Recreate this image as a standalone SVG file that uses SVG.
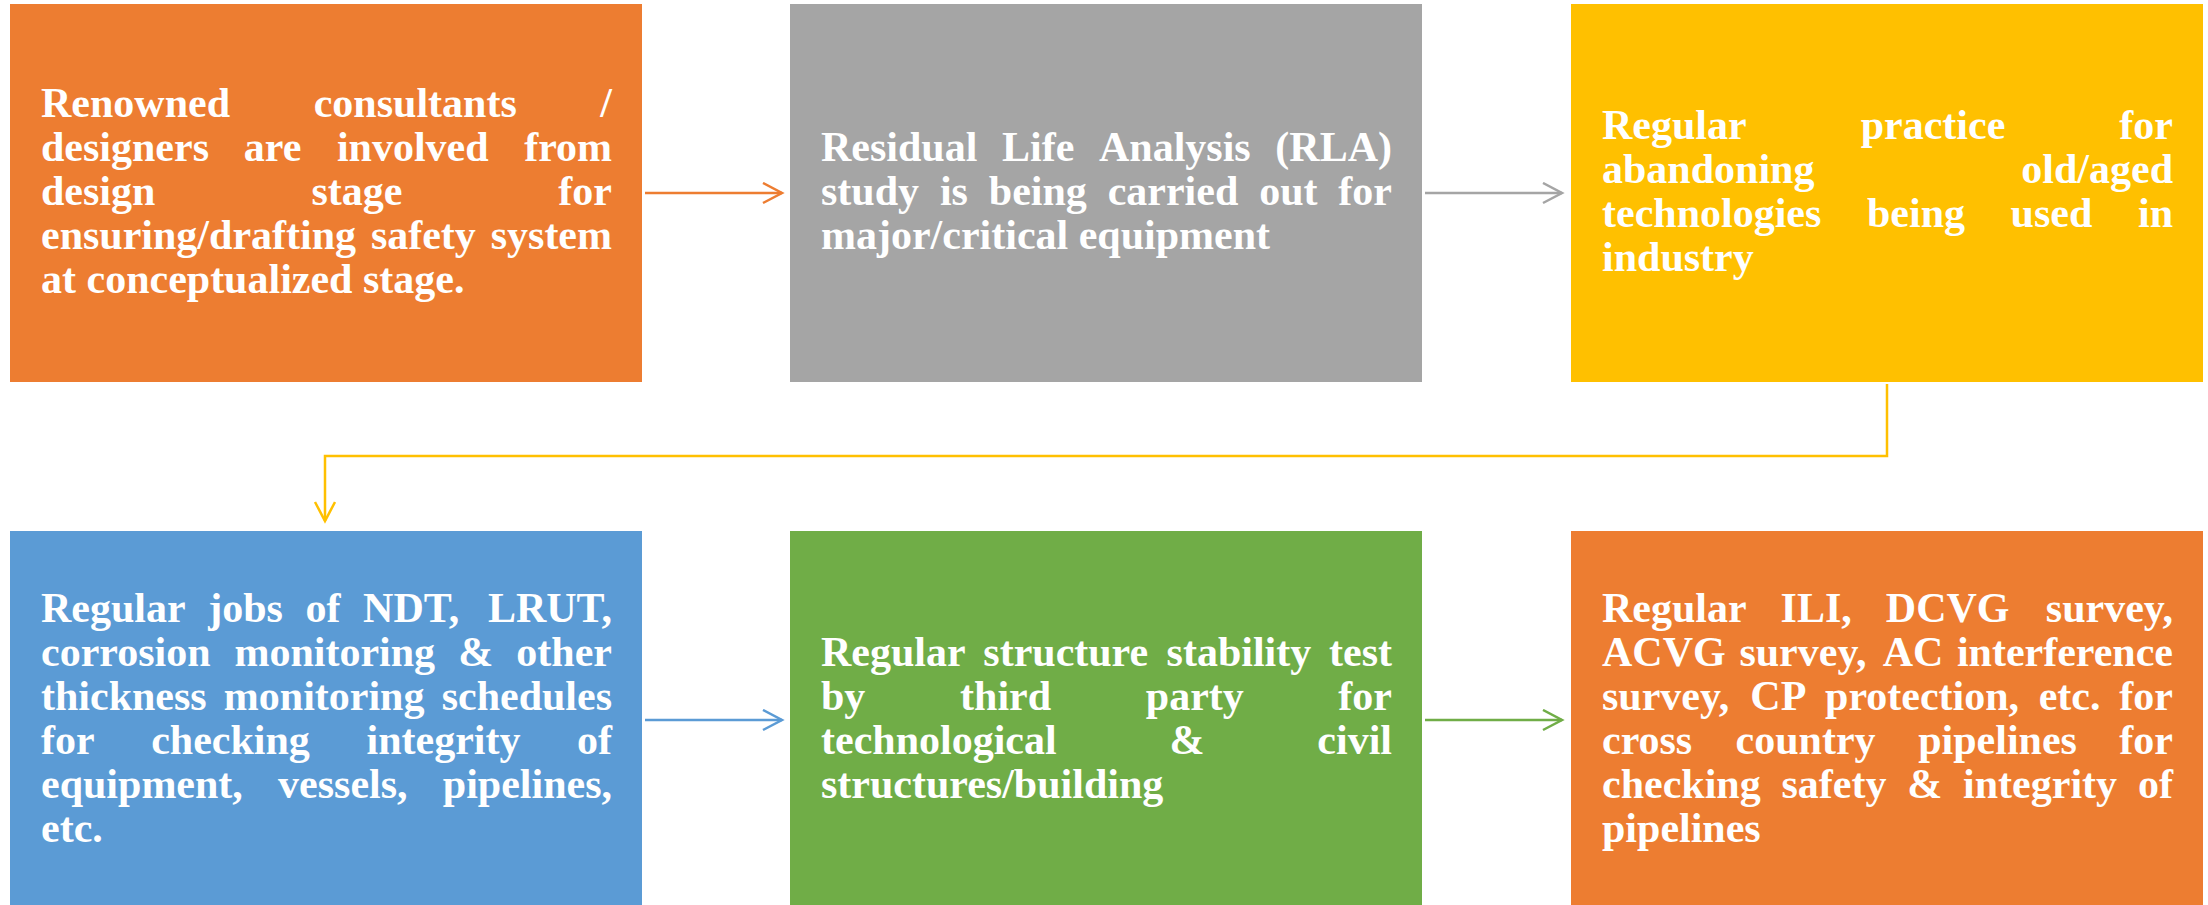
<svg xmlns="http://www.w3.org/2000/svg" width="2208" height="905" viewBox="0 0 2208 905">
<style>
.t{font-family:"Liberation Serif","Times New Roman",serif;font-weight:bold;font-size:42px;fill:#FFFFFF}
.e{text-anchor:end}
.c{fill:none;stroke-width:2.5}
</style>
<defs>
<marker id="mo" markerUnits="userSpaceOnUse" markerWidth="24" markerHeight="24" refX="20" refY="11" orient="auto"><path d="M1,1 L20,11 L1,21" fill="none" stroke="#ED7D31" stroke-width="2.5"/></marker>
<marker id="mg" markerUnits="userSpaceOnUse" markerWidth="24" markerHeight="24" refX="20" refY="11" orient="auto"><path d="M1,1 L20,11 L1,21" fill="none" stroke="#A5A5A5" stroke-width="2.5"/></marker>
<marker id="my" markerUnits="userSpaceOnUse" markerWidth="24" markerHeight="24" refX="20" refY="11" orient="auto"><path d="M1,1 L20,11 L1,21" fill="none" stroke="#FFC000" stroke-width="2.5"/></marker>
<marker id="mb" markerUnits="userSpaceOnUse" markerWidth="24" markerHeight="24" refX="20" refY="11" orient="auto"><path d="M1,1 L20,11 L1,21" fill="none" stroke="#5B9BD5" stroke-width="2.5"/></marker>
<marker id="mgr" markerUnits="userSpaceOnUse" markerWidth="24" markerHeight="24" refX="20" refY="11" orient="auto"><path d="M1,1 L20,11 L1,21" fill="none" stroke="#70AD47" stroke-width="2.5"/></marker>
</defs>
<rect width="2208" height="905" fill="#FFFFFF"/>
<g id="connectors">
<line class="c" x1="645" y1="193" x2="782" y2="193" stroke="#ED7D31" marker-end="url(#mo)"/>
<line class="c" x1="1425" y1="193" x2="1562" y2="193" stroke="#A5A5A5" marker-end="url(#mg)"/>
<path class="c" d="M1887,384 V456 H325 V521" stroke="#FFC000" marker-end="url(#my)"/>
<line class="c" x1="645" y1="720" x2="782" y2="720" stroke="#5B9BD5" marker-end="url(#mb)"/>
<line class="c" x1="1425" y1="720" x2="1562" y2="720" stroke="#70AD47" marker-end="url(#mgr)"/>
</g>
<g id="node1">
<rect x="10" y="4" width="632" height="378" fill="#ED7D31"/>
<text class="t"><tspan x="41" y="117">Renowned</tspan><tspan x="313.7" y="117">consultants</tspan><tspan class="e" x="612" y="117">/</tspan><tspan x="41" y="161">designers</tspan><tspan x="243.8" y="161">are</tspan><tspan x="336.9" y="161">involved</tspan><tspan class="e" x="612" y="161">from</tspan><tspan x="41" y="205">design</tspan><tspan x="311.4" y="205">stage</tspan><tspan class="e" x="612" y="205">for</tspan><tspan x="41" y="249">ensuring/drafting</tspan><tspan x="370.9" y="249">safety</tspan><tspan class="e" x="612" y="249">system</tspan><tspan x="41" y="293">at conceptualized stage.</tspan></text>
</g>
<g id="node2">
<rect x="790" y="4" width="632" height="378" fill="#A5A5A5"/>
<text class="t"><tspan x="821" y="161">Residual</tspan><tspan x="1002.1" y="161">Life</tspan><tspan x="1099" y="161">Analysis</tspan><tspan class="e" x="1392" y="161">(RLA)</tspan><tspan x="821" y="205">study</tspan><tspan x="939.9" y="205">is</tspan><tspan x="988.8" y="205">being</tspan><tspan x="1107.7" y="205">carried</tspan><tspan x="1259.2" y="205">out</tspan><tspan class="e" x="1392" y="205">for</tspan><tspan x="821" y="249">major/critical equipment</tspan></text>
</g>
<g id="node3">
<rect x="1571" y="4" width="632" height="378" fill="#FFC000"/>
<text class="t"><tspan x="1602" y="139">Regular</tspan><tspan x="1860.7" y="139">practice</tspan><tspan class="e" x="2173" y="139">for</tspan><tspan x="1602" y="183">abandoning</tspan><tspan class="e" x="2173" y="183">old/aged</tspan><tspan x="1602" y="227">technologies</tspan><tspan x="1867" y="227">being</tspan><tspan x="2010.6" y="227">used</tspan><tspan class="e" x="2173" y="227">in</tspan><tspan x="1602" y="271">industry</tspan></text>
</g>
<g id="node4">
<rect x="10" y="531" width="632" height="378" fill="#5B9BD5"/>
<text class="t"><tspan x="41" y="622">Regular</tspan><tspan x="208.2" y="622">jobs</tspan><tspan x="305.5" y="622">of</tspan><tspan x="363.1" y="622">NDT,</tspan><tspan class="e" x="612" y="622">LRUT,</tspan><tspan x="41" y="666">corrosion</tspan><tspan x="234.4" y="666">monitoring</tspan><tspan x="458.3" y="666">&amp;</tspan><tspan class="e" x="612" y="666">other</tspan><tspan x="41" y="710">thickness</tspan><tspan x="223.8" y="710">monitoring</tspan><tspan class="e" x="612" y="710">schedules</tspan><tspan x="41" y="754">for</tspan><tspan x="151.2" y="754">checking</tspan><tspan x="366.5" y="754">integrity</tspan><tspan class="e" x="612" y="754">of</tspan><tspan x="41" y="798">equipment,</tspan><tspan x="278.1" y="798">vessels,</tspan><tspan class="e" x="612" y="798">pipelines,</tspan><tspan x="41" y="842">etc.</tspan></text>
</g>
<g id="node5">
<rect x="790" y="531" width="632" height="378" fill="#70AD47"/>
<text class="t"><tspan x="821" y="666">Regular</tspan><tspan x="983.3" y="666">structure</tspan><tspan x="1166.6" y="666">stability</tspan><tspan class="e" x="1392" y="666">test</tspan><tspan x="821" y="710">by</tspan><tspan x="960.1" y="710">third</tspan><tspan x="1145.8" y="710">party</tspan><tspan class="e" x="1392" y="710">for</tspan><tspan x="821" y="754">technological</tspan><tspan x="1169.5" y="754">&amp;</tspan><tspan class="e" x="1392" y="754">civil</tspan><tspan x="821" y="798">structures/building</tspan></text>
</g>
<g id="node6">
<rect x="1571" y="531" width="632" height="378" fill="#ED7D31"/>
<text class="t"><tspan x="1602" y="622">Regular</tspan><tspan x="1780.6" y="622">ILI,</tspan><tspan x="1885.8" y="622">DCVG</tspan><tspan class="e" x="2173" y="622">survey,</tspan><tspan x="1602" y="666">ACVG</tspan><tspan x="1739.4" y="666">survey,</tspan><tspan x="1882.7" y="666">AC</tspan><tspan class="e" x="2173" y="666">interference</tspan><tspan x="1602" y="710">survey,</tspan><tspan x="1750.3" y="710">CP</tspan><tspan x="1825.1" y="710">protection,</tspan><tspan x="2038.7" y="710">etc.</tspan><tspan class="e" x="2173" y="710">for</tspan><tspan x="1602" y="754">cross</tspan><tspan x="1735.6" y="754">country</tspan><tspan x="1918.2" y="754">pipelines</tspan><tspan class="e" x="2173" y="754">for</tspan><tspan x="1602" y="798">checking</tspan><tspan x="1781.5" y="798">safety</tspan><tspan x="1907.3" y="798">&amp;</tspan><tspan x="1963.1" y="798">integrity</tspan><tspan class="e" x="2173" y="798">of</tspan><tspan x="1602" y="842">pipelines</tspan></text>
</g>
</svg>
